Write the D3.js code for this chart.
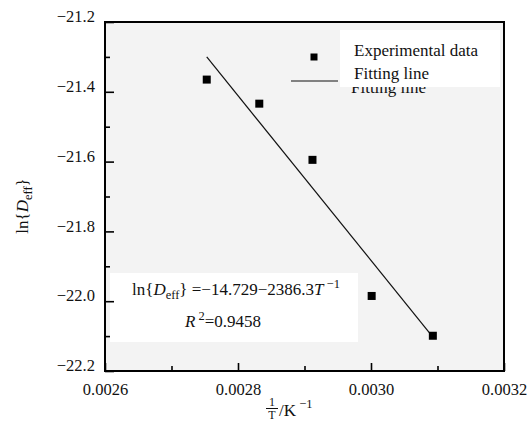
<!DOCTYPE html>
<html>
<head>
<meta charset="utf-8">
<script src="https://cdn.jsdelivr.net/npm/d3@7"></script>
<style>
  body { margin: 0; background: #fff; }
  svg text { font-family: "Liberation Serif", "Times New Roman", Times, "DejaVu Serif", serif; fill: #111; }
</style>
</head>
<body>
<div id="chart"></div>
<script>
// measured points, ln(Deff) vs 1/T
var invT = [0.002753, 0.002832, 0.002912, 0.003001, 0.003093];
var lnD = [-21.365, -21.434, -21.595, -21.985, -22.099];
// ends of the fitted line
var fitX = [0.002753, 0.003094];
var fitY = [-21.300, -22.105];
var xTicks = [0.0026, 0.0028, 0.0030, 0.0032];
var xMinor = [0.0027, 0.0029, 0.0031];
var yTicks = [-21.2, -21.4, -21.6, -21.8, -22.0, -22.2];
var yMinor = [-21.3, -21.5, -21.7, -21.9, -22.1];
var legendLabels = ["Experimental data", "Fitting line"];

var serif = "'Liberation Serif', 'Times New Roman', Times, 'DejaVu Serif', serif";

var svgWidth = 531, svgHeight = 446;
var margin = {top: 22, right: 27, bottom: 75, left: 105};
var width = svgWidth - margin.left - margin.right;
var height = svgHeight - margin.top - margin.bottom;

var x = d3.scaleLinear().domain([0.0026, 0.0032]).range([0, width]),
    y = d3.scaleLinear().domain([-22.2, -21.2]).range([height, 0]);

var svg = d3.select("#chart").append("svg")
    .attr("width", svgWidth)
    .attr("height", svgHeight)
    .attr("font-family", serif);

var g = svg.append("g")
    .attr("transform", "translate(" + margin.left + "," + margin.top + ")");

// grey plot background
g.append("rect")
    .attr("width", width).attr("height", height)
    .attr("fill", "#f3f3f3");

// white box behind the equation
g.append("rect")
    .attr("x", 5).attr("y", 251).attr("width", 248).attr("height", 69)
    .attr("fill", "#fff");

// faint duplicate of the legend label, half covered by the legend box
g.append("text")
    .attr("x", 246).attr("y", 71)
    .attr("font-size", 17)
    .attr("fill", "#444")
    .text(legendLabels[1]);

g.append("rect")
    .attr("x", 235).attr("y", 8).attr("width", 160).attr("height", 57)
    .attr("fill", "#fff");

// axes, ticks pointing inwards
var yAxis = d3.axisLeft(y).tickValues(yTicks).tickSizeInner(-9).tickSizeOuter(0)
    .tickPadding(10).tickFormat(d3.format(".1f"));
var yAxisMinor = d3.axisLeft(y).tickValues(yMinor).tickSizeInner(-5).tickSizeOuter(0)
    .tickFormat("");
var xAxis = d3.axisBottom(x).tickValues(xTicks).tickSizeInner(-8).tickSizeOuter(0)
    .tickPadding(12).tickFormat(d3.format(".4f"));
var xAxisMinor = d3.axisBottom(x).tickValues(xMinor).tickSizeInner(-5).tickSizeOuter(0)
    .tickFormat("");

g.append("g").attr("class", "yAxis").call(yAxis);
g.append("g").attr("class", "yAxis").call(yAxisMinor);
g.append("g").attr("class", "xAxis").attr("transform", "translate(0," + height + ")").call(xAxis);
g.append("g").attr("class", "xAxis").attr("transform", "translate(0," + height + ")").call(xAxisMinor);

g.selectAll(".domain").remove();
g.selectAll(".yAxis, .xAxis").attr("font-family", serif).attr("font-size", 16.5);
g.selectAll(".tick line").attr("stroke", "#000").attr("stroke-width", 1.6);
g.selectAll(".tick text").attr("fill", "#111");
g.selectAll(".yAxis .tick text").attr("dy", "-0.02em");

// frame
g.append("rect")
    .attr("width", width).attr("height", height)
    .attr("fill", "none").attr("stroke", "#000").attr("stroke-width", 2);

// fitted line
var line = d3.line()
    .x(function(d, i) { return x(fitX[i]); })
    .y(function(d) { return y(d); });

g.append("path")
    .datum(fitY)
    .attr("fill", "none")
    .attr("stroke", "#111")
    .attr("stroke-width", 1.2)
    .attr("d", line);

// points
var sq = 8;
g.selectAll(".pt")
    .data(invT)
    .enter().append("rect")
    .attr("class", "pt")
    .attr("x", function(d) { return x(d) - sq / 2; })
    .attr("y", function(d, i) { return y(lnD[i]) - sq / 2; })
    .attr("width", sq).attr("height", sq)
    .attr("fill", "#000");

// legend
g.append("rect")
    .attr("x", 209 - 3.5).attr("y", 35 - 3.5).attr("width", 7).attr("height", 7)
    .attr("fill", "#000");
g.append("line")
    .attr("x1", 186).attr("x2", 233).attr("y1", 59).attr("y2", 59)
    .attr("stroke", "#111").attr("stroke-width", 1.2);
g.selectAll(".leg")
    .data(legendLabels)
    .enter().append("text")
    .attr("class", "leg")
    .attr("x", 249)
    .attr("y", function(d, i) { return 34 + i * 23; })
    .attr("font-size", 17)
    .text(function(d) { return d; });

// equation
var eq = g.append("text").attr("x", 27).attr("y", 273).attr("font-size", 17);
eq.append("tspan").text("ln{");
eq.append("tspan").attr("font-style", "italic").text("D");
eq.append("tspan").attr("font-size", 12.5).attr("dy", 4).text("eff");
eq.append("tspan").attr("dy", -4).text("} =\u221214.729\u22122386.3");
eq.append("tspan").attr("font-style", "italic").text("T");
eq.append("tspan").attr("font-size", 12.5).attr("dy", -7).text(" \u22121");

var r2 = g.append("text").attr("x", 80).attr("y", 305).attr("font-size", 17);
r2.append("tspan").attr("font-style", "italic").text("R");
r2.append("tspan").attr("font-size", 12.5).attr("dy", -7).text(" 2");
r2.append("tspan").attr("dy", 7).text("=0.9458");

// y title
var yt = svg.append("text")
    .attr("transform", "translate(28,206) rotate(-90)")
    .attr("text-anchor", "middle")
    .attr("font-size", 17);
yt.append("tspan").text("ln{");
yt.append("tspan").attr("font-style", "italic").text("D");
yt.append("tspan").attr("font-size", 12.5).attr("dy", 4).text("eff");
yt.append("tspan").attr("dy", -4).text("}");

// x title: 1/T over K^-1
svg.append("text").attr("x", 272).attr("y", 406).attr("text-anchor", "middle")
    .attr("font-size", 12).text("1");
svg.append("line").attr("x1", 266).attr("x2", 278).attr("y1", 408.5).attr("y2", 408.5)
    .attr("stroke", "#111").attr("stroke-width", 1);
svg.append("text").attr("x", 272).attr("y", 419).attr("text-anchor", "middle")
    .attr("font-size", 12).text("T");
var xt = svg.append("text").attr("x", 279).attr("y", 416).attr("font-size", 17);
xt.append("tspan").text("/K");
xt.append("tspan").attr("font-size", 12.5).attr("dy", -8).text(" \u22121");
</script>
</body>
</html>
